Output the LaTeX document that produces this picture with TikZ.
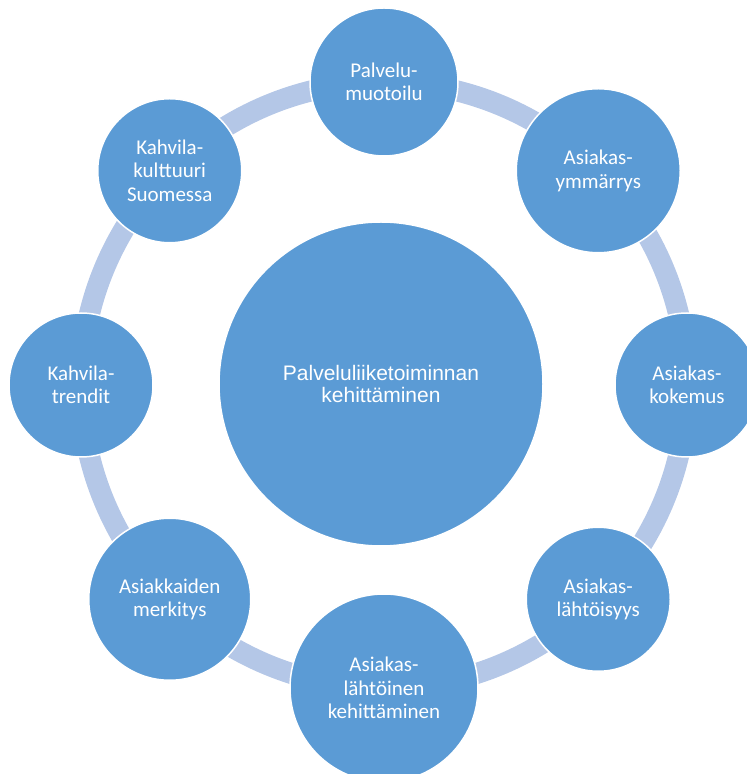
\documentclass[tikz,border=0pt]{standalone}
\usepackage{fontspec}
\setmainfont{Carlito}
\newfontfamily\hubfont{Liberation Sans}
\usetikzlibrary{backgrounds}

\definecolor{bubble}{HTML}{5B9BD5}
\definecolor{ringblue}{HTML}{B4C7E7}

\tikzset{
  bubblenode/.style={circle, fill=bubble, draw=white, line width=1.5pt,
    text=white, inner sep=0pt, align=center,
    font=\fontsize{21}{23.5}\selectfont},
  hubnode/.style={circle, fill=bubble, draw=white, line width=1.5pt,
    text=white, inner sep=0pt, align=center, minimum size=324pt,
    font=\hubfont\fontsize{21}{22.5}\selectfont},
  ringseg/.style={draw=ringblue, line width=21pt},
}

\begin{document}
\begin{tikzpicture}[x=1pt,y=1pt]
  \useasboundingbox (0,0) rectangle (747,774);
  \clip (0,0) rectangle (747,774);

  % centre of the ring of topics
  \coordinate (ringc) at (384,389);

  % central theme
  \node[hubnode] (hub) at (381,390) {Palveluliiketoiminnan\\kehittäminen};

  % topics around the ring, clockwise from the top
  \path (ringc) ++(90:303)   node[bubblenode, minimum size=148pt] (t1) {Palvelu-\\muotoilu};
  \path (ringc) ++(45:303)   node[bubblenode, minimum size=164pt] (t2) {Asiakas-\\ymmärrys};
  \path (ringc) ++(0:303)    node[bubblenode, minimum size=144pt] (t3) {Asiakas-\\kokemus};
  \path (ringc) ++(-45:303)  node[bubblenode, minimum size=144pt] (t4) {Asiakas-\\lähtöisyys};
  \path (ringc) ++(-90:303)  node[bubblenode, minimum size=188pt] (t5) {Asiakas-\\lähtöinen\\kehittäminen};
  \path (ringc) ++(-135:303) node[bubblenode, minimum size=162pt] (t6) {Asiakkaiden\\merkitys};
  \path (ringc) ++(180:303)  node[bubblenode, minimum size=144pt] (t7) {Kahvila-\\trendit};
  \path (ringc) ++(135:303)  node[bubblenode, minimum size=144pt] (t8) {Kahvila-\\kulttuuri\\Suomessa};

  % ring segments joining neighbouring topics
  \begin{pgfonlayer}{background}
    \draw[ringseg] (t1.center) arc[start angle=90,   end angle=45,   radius=303pt];
    \draw[ringseg] (t2.center) arc[start angle=45,   end angle=0,    radius=303pt];
    \draw[ringseg] (t3.center) arc[start angle=0,    end angle=-45,  radius=303pt];
    \draw[ringseg] (t4.center) arc[start angle=-45,  end angle=-90,  radius=303pt];
    \draw[ringseg] (t5.center) arc[start angle=-90,  end angle=-135, radius=303pt];
    \draw[ringseg] (t6.center) arc[start angle=-135, end angle=-180, radius=303pt];
    \draw[ringseg] (t7.center) arc[start angle=180,  end angle=135,  radius=303pt];
    \draw[ringseg] (t8.center) arc[start angle=135,  end angle=90,   radius=303pt];
  \end{pgfonlayer}
\end{tikzpicture}
\end{document}
